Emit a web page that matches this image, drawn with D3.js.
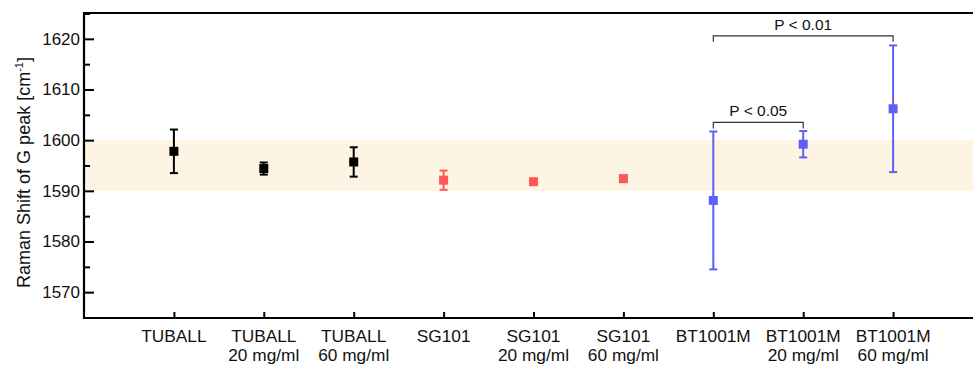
<!DOCTYPE html>
<html>
<head>
<meta charset="utf-8">
<script src="https://cdn.jsdelivr.net/npm/d3@7"></script>
<style>
  body { margin: 0; background: #fff; }
  svg { display: block; font-family: "Liberation Sans", Arial, sans-serif; }
</style>
</head>
<body>
<svg width="973" height="365"></svg>
<script>
const names = ["TUBALL", "TUBALL", "TUBALL", "SG101", "SG101", "SG101", "BT1001M", "BT1001M", "BT1001M"];
const doses = ["", "20 mg/ml", "60 mg/ml", "", "20 mg/ml", "60 mg/ml", "", "20 mg/ml", "60 mg/ml"];
const means = [1597.8, 1594.4, 1595.7, 1592.1, 1591.8, 1592.4, 1588.1, 1599.2, 1606.2];
const errors = [4.3, 1.2, 2.9, 1.9, 0.3, 0.6, 13.6, 2.6, 12.5];
const groups = ["tuball", "tuball", "tuball", "sg", "sg", "sg", "bt", "bt", "bt"];
const yTicks = [1570, 1580, 1590, 1600, 1610, 1620];
const yMinor = [1565, 1575, 1585, 1595, 1605, 1615, 1625];
const band = [1590, 1600];
// significance brackets: from index, to index, level, label
const brackets = [
  { from: 6, to: 8, level: 1620.6, label: "P < 0.01" },
  { from: 6, to: 7, level: 1603.5, label: "P < 0.05" },
];

const colors = { tuball: "#000000", sg: "#ff5656", bt: "#5f5ff7" };

const svg = d3.select("svg");
const plotLeft = 84, plotTop = 13, plotBottom = 318;

const x = d3.scaleLinear().domain([-1, 9]).range([plotLeft, plotLeft + 899]);
const y = d3.scaleLinear().domain([1564.9, 1625.1]).range([plotBottom, plotTop]);

// reference band
svg.append("rect")
  .attr("x", plotLeft)
  .attr("y", y(band[1]))
  .attr("width", 973 - plotLeft)
  .attr("height", y(band[0]) - y(band[1]))
  .attr("fill", "#fdf4e3");

// y axis, ticks pointing inward
const yAxis = svg.append("g")
  .attr("transform", `translate(${plotLeft},0)`)
  .call(d3.axisRight(y).tickValues(yTicks).tickSize(10).tickFormat(""));
yAxis.select(".domain").remove();
yAxis.selectAll("line").attr("stroke-width", 2);

const yMinorAxis = svg.append("g")
  .attr("transform", `translate(${plotLeft},0)`)
  .call(d3.axisRight(y).tickValues(yMinor).tickSize(6).tickFormat(""));
yMinorAxis.select(".domain").remove();
yMinorAxis.selectAll("line").attr("stroke-width", 2);

svg.append("g")
  .selectAll("text")
  .data(yTicks)
  .join("text")
  .attr("x", plotLeft - 4)
  .attr("y", d => y(d))
  .attr("dy", "0.35em")
  .attr("text-anchor", "end")
  .attr("font-size", 17)
  .attr("fill", "#111")
  .text(d => d);

// x axis ticks pointing up
const xAxis = svg.append("g")
  .attr("transform", `translate(0,${plotBottom})`)
  .call(d3.axisTop(x).tickValues(d3.range(names.length)).tickSize(6).tickFormat(""));
xAxis.select(".domain").remove();
xAxis.selectAll("line").attr("stroke-width", 2);

const labels = svg.append("g")
  .selectAll("text")
  .data(names)
  .join("text")
  .attr("x", (d, i) => x(i))
  .attr("y", 342)
  .attr("text-anchor", "middle")
  .attr("font-size", 17.3)
  .attr("fill", "#111");
labels.append("tspan").text(d => d);
labels.append("tspan")
  .attr("x", (d, i) => x(i))
  .attr("y", 361)
  .text((d, i) => doses[i]);

// frame: left, top, bottom
svg.append("path")
  .attr("d", `M973,${plotTop}H${plotLeft}V${plotBottom}H973`)
  .attr("fill", "none")
  .attr("stroke", "#000")
  .attr("stroke-width", 2.2);

// y title
svg.append("text")
  .attr("transform", `translate(30,${(55 + 290) / 2}) rotate(-90)`)
  .attr("text-anchor", "middle")
  .attr("font-size", 18)
  .attr("fill", "#111")
  .call(t => {
    t.append("tspan").text("Raman Shift of G peak [cm");
    t.append("tspan").attr("dy", -7).attr("font-size", 11).text("-1");
    t.append("tspan").attr("dy", 7).text("]");
  });

// error bars
const pts = means.map((m, i) => ({ i, m, e: errors[i], c: colors[groups[i]] }));
const eb = svg.append("g").selectAll("g").data(pts).join("g").attr("stroke", d => d.c).attr("stroke-width", 2);
eb.append("line")
  .attr("x1", d => x(d.i)).attr("x2", d => x(d.i))
  .attr("y1", d => y(d.m - d.e)).attr("y2", d => y(d.m + d.e));
eb.append("line")
  .attr("x1", d => x(d.i) - 4).attr("x2", d => x(d.i) + 4)
  .attr("y1", d => y(d.m + d.e)).attr("y2", d => y(d.m + d.e));
eb.append("line")
  .attr("x1", d => x(d.i) - 4).attr("x2", d => x(d.i) + 4)
  .attr("y1", d => y(d.m - d.e)).attr("y2", d => y(d.m - d.e));

svg.append("g").selectAll("rect").data(pts).join("rect")
  .attr("x", d => x(d.i) - 4.5)
  .attr("y", d => y(d.m) - 4.5)
  .attr("width", 9)
  .attr("height", 9)
  .attr("fill", d => d.c);

// brackets
const br = svg.append("g").selectAll("g").data(brackets).join("g");
br.append("path")
  .attr("d", d => `M${x(d.from)},${y(d.level) + 6}V${y(d.level)}H${x(d.to)}V${y(d.level) + 6}`)
  .attr("fill", "none")
  .attr("stroke", "#333")
  .attr("stroke-width", 1.2);
br.append("text")
  .attr("x", d => (x(d.from) + x(d.to)) / 2)
  .attr("y", d => y(d.level) - 6)
  .attr("text-anchor", "middle")
  .attr("font-size", 15.5)
  .attr("fill", "#111")
  .text(d => d.label);
</script>
</body>
</html>
